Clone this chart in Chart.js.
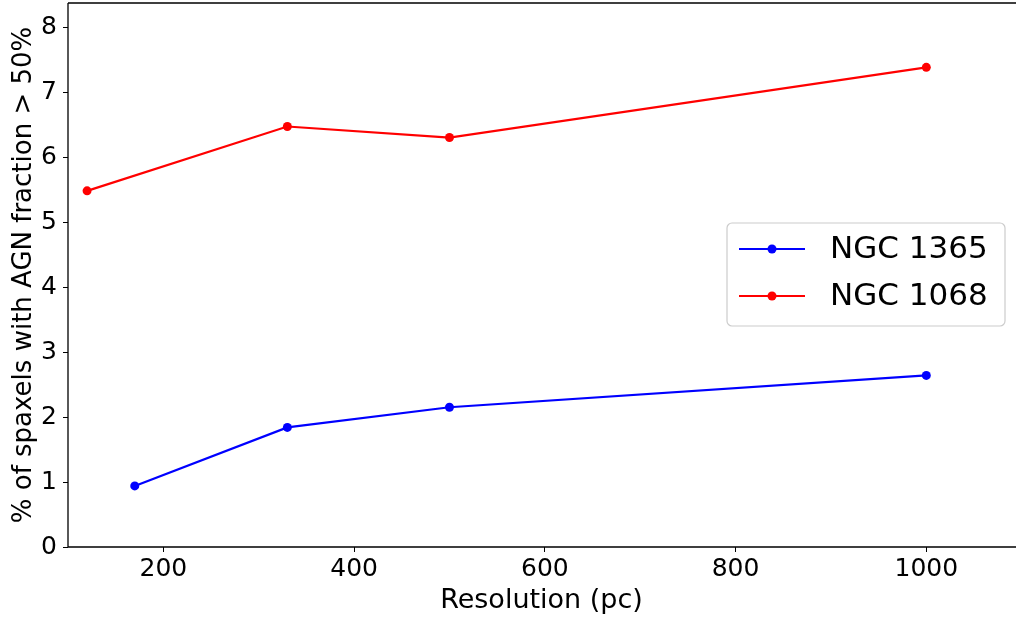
<!DOCTYPE html>
<html>
<head>
<meta charset="utf-8">
<script src="https://cdn.jsdelivr.net/npm/chart.js@4.4.1/dist/chart.umd.min.js"></script>
<style>
  html, body { margin: 0; padding: 0; background: #fff; }
  #wrap { width: 1016px; height: 617px; }
</style>
</head>
<body>
<div id="wrap"><canvas id="chart" width="1016" height="617"></canvas></div>
<script>
// Datos
const resNGC1365 = [170, 330, 500, 1000];
const pctNGC1365 = [0.94, 1.84, 2.15, 2.64];
const resNGC1068 = [120, 330, 500, 1000];
const pctNGC1068 = [5.48, 6.47, 6.30, 7.38];
const xTicks = [200, 400, 600, 800, 1000];
const yTicks = [0, 1, 2, 3, 4, 5, 6, 7, 8];
const seriesNames = ['NGC 1365', 'NGC 1068'];
const seriesColors = ['#0000ff', '#ff0000'];

const FONT = "'DejaVu Sans', sans-serif";

const toPoints = (xs, ys) => xs.map((x, i) => ({ x, y: ys[i] }));

// marco del area (izquierda, abajo, arriba) como matplotlib
const framePlugin = {
    id: 'frame',
    afterDatasetsDraw(chart) {
        const { ctx, chartArea: a } = chart;
        ctx.save();
        ctx.strokeStyle = '#000';
        ctx.lineWidth = 1.3;
        ctx.beginPath();
        ctx.moveTo(a.left, a.top);
        ctx.lineTo(a.right + 5, a.top);
        ctx.moveTo(a.left, a.top);
        ctx.lineTo(a.left, a.bottom);
        ctx.lineTo(a.right + 5, a.bottom);
        ctx.stroke();
        ctx.restore();
    }
};

// leyenda dibujada a mano dentro del area
const legendPlugin = {
    id: 'boxLegend',
    afterDraw(chart) {
        const { ctx } = chart;
        const bx = 727, by = 223, bw = 278, bh = 103, r = 5;
        ctx.save();
        ctx.fillStyle = 'rgba(255,255,255,0.8)';
        ctx.strokeStyle = '#cccccc';
        ctx.lineWidth = 1.2;
        ctx.beginPath();
        ctx.roundRect(bx, by, bw, bh, r);
        ctx.fill();
        ctx.stroke();
        const rows = [249, 296];
        chart.data.datasets.forEach((ds, i) => {
            const y = rows[i];
            ctx.strokeStyle = ds.borderColor;
            ctx.lineWidth = 2;
            ctx.beginPath();
            ctx.moveTo(739, y);
            ctx.lineTo(805, y);
            ctx.stroke();
            ctx.fillStyle = ds.borderColor;
            ctx.beginPath();
            ctx.arc(772, y, 4.5, 0, Math.PI * 2);
            ctx.fill();
            ctx.fillStyle = '#000';
            ctx.font = '31px ' + FONT;
            ctx.textBaseline = 'middle';
            ctx.fillText(ds.label, 830, y + 1);
        });
        ctx.restore();
    }
};

new Chart(document.getElementById('chart'), {
    type: 'line',
    plugins: [framePlugin, legendPlugin],
    data: {
        datasets: [
            {
                label: seriesNames[0],
                data: toPoints(resNGC1365, pctNGC1365),
                borderColor: seriesColors[0],
                backgroundColor: seriesColors[0],
                borderWidth: 2.2,
                pointRadius: 4.5,
                pointBorderWidth: 0,
                tension: 0,
                fill: false
            },
            {
                label: seriesNames[1],
                data: toPoints(resNGC1068, pctNGC1068),
                borderColor: seriesColors[1],
                backgroundColor: seriesColors[1],
                borderWidth: 2.2,
                pointRadius: 4.5,
                pointBorderWidth: 0,
                tension: 0,
                fill: false
            }
        ]
    },
    options: {
        responsive: false,
        animation: false,
        devicePixelRatio: 1,
        layout: { autoPadding: false, padding: { top: 3, right: 1, left: 0, bottom: 0 } },
        plugins: {
            legend: { display: false },
            tooltip: { enabled: false }
        },
        scales: {
            x: {
                type: 'linear',
                min: 100,
                max: 1093,
                afterFit(s) { s.height = 70; s.paddingLeft = 0; s.paddingRight = 0; },
                afterBuildTicks(s) { s.ticks = xTicks.map(v => ({ value: v })); },
                grid: { display: true, drawOnChartArea: false, drawTicks: true, tickLength: 5, color: '#000', lineWidth: 1 },
                border: { display: false },
                ticks: { color: '#000', font: { family: FONT, size: 25 }, padding: 2, maxRotation: 0, callback: v => String(v) },
                title: { display: true, text: 'Resolution (pc)', color: '#000', font: { family: FONT, size: 27 }, padding: { top: 0, bottom: 0 } }
            },
            y: {
                type: 'linear',
                min: 0,
                max: 8.37,
                afterFit(s) { s.width = 68; s.paddingTop = 0; s.paddingBottom = 0; },
                afterBuildTicks(s) { s.ticks = yTicks.map(v => ({ value: v })); },
                grid: { display: true, drawOnChartArea: false, drawTicks: true, tickLength: 5, color: '#000', lineWidth: 1 },
                border: { display: false },
                ticks: { color: '#000', font: { family: FONT, size: 25 }, padding: 6, callback: v => String(v) },
                title: { display: true, text: '% of spaxels with AGN fraction > 50%', color: '#000', font: { family: FONT, size: 26 }, padding: { top: 9, bottom: 0 } }
            }
        }
    }
});
</script>
</body>
</html>
